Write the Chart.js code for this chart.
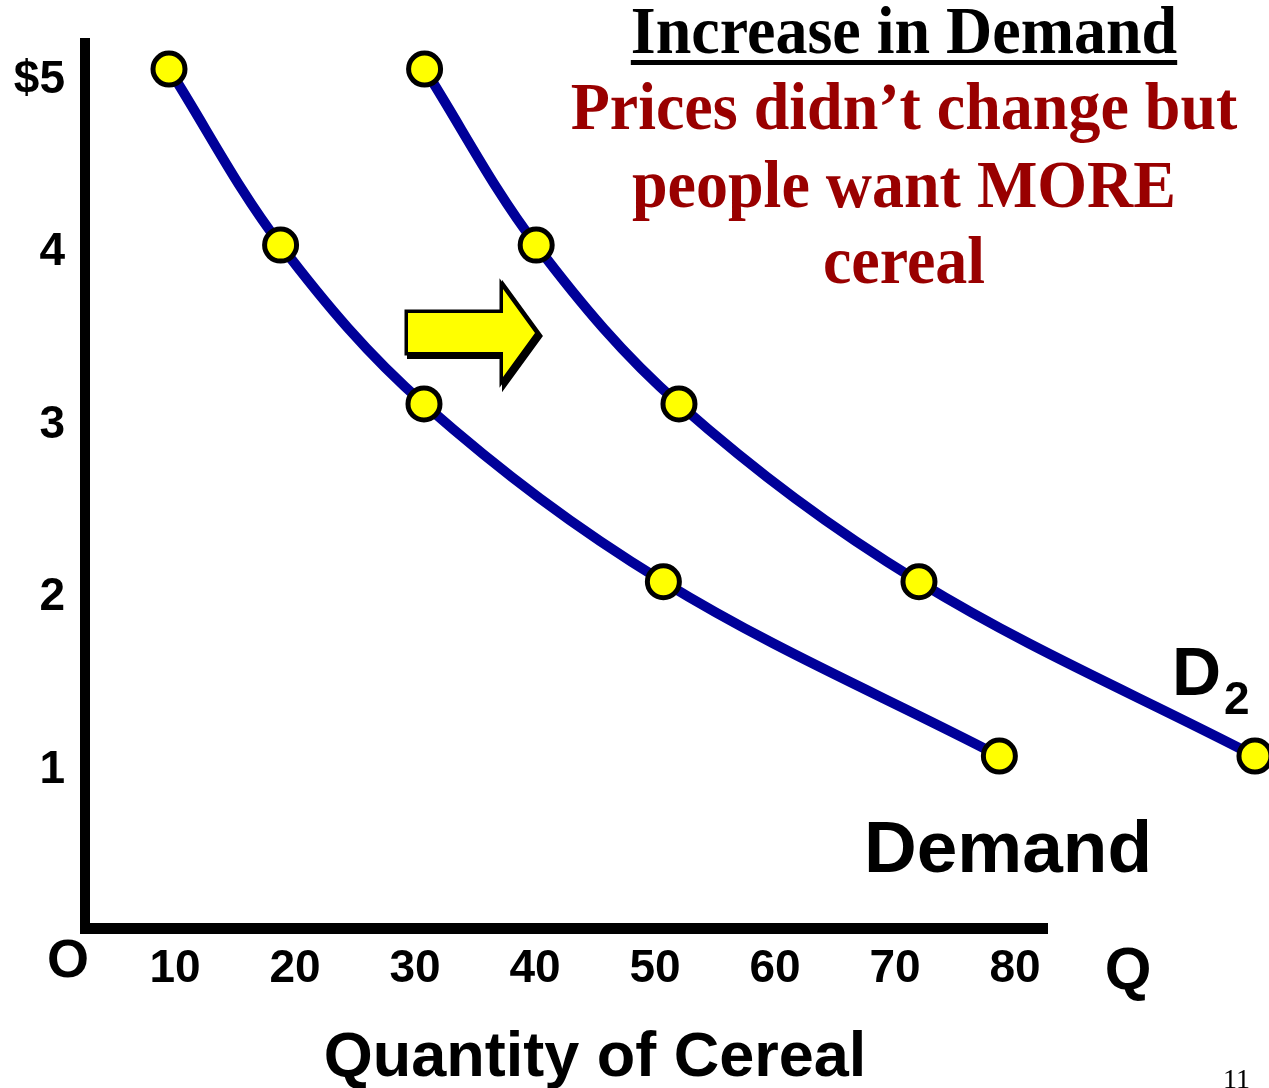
<!DOCTYPE html>
<html>
<head>
<meta charset="utf-8">
<script src="https://cdn.jsdelivr.net/npm/chart.js@4.4.1/dist/chart.umd.min.js"></script>
<style>
  html, body { margin: 0; padding: 0; background: #fff; }
  canvas { display: block; }
</style>
</head>
<body>
<canvas id="chart" width="1269" height="1088"></canvas>
<script>
// ---- data ----
const prices = [5.04, 4.02, 3.1, 2.07, 1.06];
const qtyDemand = [9.5, 18.8, 30.75, 50.7, 78.7];
const qtyD2 = [30.8, 40.1, 52, 72, 100];
const xTickValues = [10, 20, 30, 40, 50, 60, 70, 80];
const yTickValues = [5, 4, 3, 2, 1];
const yTickLabels = ["$5", "4", "3", "2", "1"];

const NAVY = "#000099";
const YELLOW = "#ffff00";
const DARKRED = "#990000";
const SANS = "'Liberation Sans', Arial, sans-serif";
const SERIF = "'Liberation Serif', 'Times New Roman', serif";

const pts = (xs) => xs.map((x, i) => ({ x, y: prices[i] }));

const curveStyle = {
  borderColor: NAVY,
  borderWidth: 10,
  pointRadius: 16,
  pointBorderWidth: 5,
  pointBackgroundColor: YELLOW,
  pointBorderColor: "#000",
  tension: 0.35,
  clip: false,
};

// no auto padding: the chart area is pinned to the slide's axes
const noPad = (s) => { s.paddingTop = s.paddingBottom = s.paddingLeft = s.paddingRight = 0; };

// text slightly stretched vertically, like the slide
function tallText(ctx, str, x, y, sy) {
  ctx.save();
  ctx.translate(x, y);
  ctx.scale(1, sy);
  ctx.fillText(str, 0, 0);
  ctx.restore();
}

// axes, arrow and slide text
const decor = {
  id: "decor",
  beforeDatasetsDraw(chart) {
    const { ctx, chartArea: a } = chart;
    ctx.save();
    ctx.fillStyle = "#000";
    ctx.fillRect(a.left - 5, 38, 10, a.bottom + 5 - 38);
    ctx.fillRect(a.left - 5, a.bottom - 5, 1048 - (a.left - 5), 11);

    // shift arrow
    const arrow = [[408, 313], [503, 313], [503, 289], [535, 333], [503, 377], [503, 352], [408, 352]];
    const path = () => {
      ctx.beginPath();
      arrow.forEach(([x, y], i) => (i ? ctx.lineTo(x, y) : ctx.moveTo(x, y)));
      ctx.closePath();
    };
    ctx.lineJoin = "miter";
    ctx.translate(3, 3);
    path();
    ctx.lineWidth = 8;
    ctx.strokeStyle = "#000";
    ctx.stroke();
    ctx.fillStyle = "#000";
    ctx.fill();
    ctx.translate(-3, -3);
    path();
    ctx.lineWidth = 7;
    ctx.stroke();
    ctx.fillStyle = YELLOW;
    ctx.fill();
    ctx.restore();
  },
  afterDraw(chart) {
    const { ctx } = chart;
    ctx.save();
    ctx.textBaseline = "alphabetic";
    ctx.fillStyle = "#000";

    ctx.textAlign = "center";
    ctx.font = `bold 54px ${SANS}`;
    ctx.fillText("O", 68, 977);
    ctx.font = `bold 60px ${SANS}`;
    ctx.fillText("Q", 1128, 989);
    ctx.font = `bold 63px ${SANS}`;
    ctx.fillText("Quantity of Cereal", 595, 1076);

    ctx.textAlign = "left";
    ctx.font = `bold 73px ${SANS}`;
    ctx.fillText("Demand", 864, 872);
    ctx.font = `bold 68px ${SANS}`;
    ctx.fillText("D", 1172, 695);
    ctx.font = `bold 46px ${SANS}`;
    ctx.fillText("2", 1224, 714);

    // title block
    ctx.textAlign = "center";
    ctx.font = `bold 64px ${SERIF}`;
    tallText(ctx, "Increase in Demand", 904, 53, 1.06);
    const w = ctx.measureText("Increase in Demand").width;
    ctx.fillRect(904 - w / 2, 60, w, 5);

    ctx.fillStyle = DARKRED;
    tallText(ctx, "Prices didn\u2019t change but", 904, 129, 1.06);
    tallText(ctx, "people want MORE", 904, 207, 1.06);
    tallText(ctx, "cereal", 904, 283, 1.06);

    ctx.fillStyle = "#000";
    ctx.textAlign = "right";
    ctx.font = `28px ${SERIF}`;
    ctx.fillText("11", 1250, 1088);
    ctx.restore();
  },
};

new Chart(document.getElementById("chart"), {
  type: "line",
  data: {
    datasets: [
      { label: "Demand", data: pts(qtyDemand), ...curveStyle },
      { label: "D2", data: pts(qtyD2), ...curveStyle },
    ],
  },
  options: {
    responsive: false,
    animation: false,
    devicePixelRatio: 1,
    layout: { padding: 0, autoPadding: false },
    plugins: { legend: { display: false }, tooltip: { enabled: false } },
    scales: {
      x: {
        type: "linear",
        min: 2.5,
        max: 101.17,
        afterBuildTicks: (s) => { s.ticks = xTickValues.map((v) => ({ value: v })); },
        afterFit: (s) => { s.height = 160; noPad(s); },
        grid: { display: false, drawTicks: false },
        border: { display: false },
        ticks: {
          color: "#000",
          padding: 14,
          autoSkip: false,
          maxRotation: 0,
          font: { family: SANS, size: 46, weight: "bold" },
        },
      },
      y: {
        type: "linear",
        min: 0.064,
        max: 5.44,
        afterBuildTicks: (s) => { s.ticks = yTickValues.map((v) => ({ value: v })); },
        afterFit: (s) => { s.width = 85; noPad(s); },
        grid: { display: false, drawTicks: false },
        border: { display: false },
        ticks: {
          color: "#000",
          padding: 20,
          labelOffset: 4,
          autoSkip: false,
          callback: (v) => yTickLabels[yTickValues.indexOf(v)],
          font: { family: SANS, size: 46, weight: "bold" },
        },
      },
    },
  },
  plugins: [decor],
});
</script>
</body>
</html>
